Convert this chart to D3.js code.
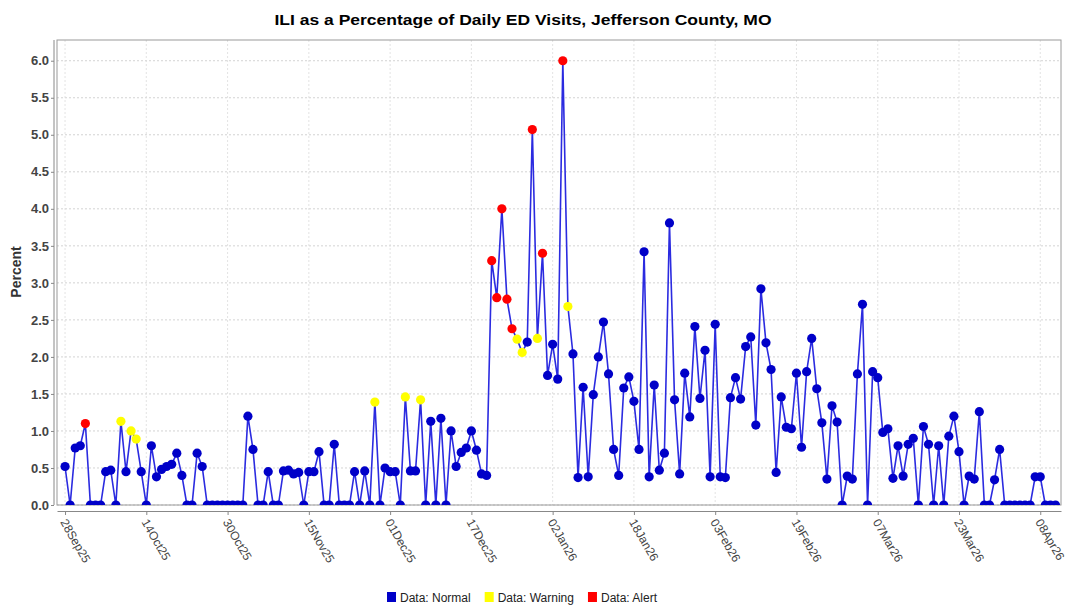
<!DOCTYPE html>
<html>
<head>
<meta charset="utf-8">
<script src="https://d3js.org/d3.v7.min.js"></script>
<style>
  body { margin: 0; background: #fff; }
  svg { display: block; font-family: "Liberation Sans", Arial, sans-serif; }
</style>
</head>
<body>
<script>
// daily ILI %, one value per day starting 28 Sep 2025
var startDate = "2025-09-28";
var values = [
  0.52, 0, 0.77, 0.8, 1.1, 0, 0, 0, 0.45, 0.47, 0, 1.13, 0.45, 1.0, 0.89, 0.45,
  0, 0.8, 0.38, 0.48, 0.52, 0.55, 0.7, 0.4, 0, 0, 0.7, 0.52, 0, 0, 0, 0,
  0, 0, 0, 0, 1.2, 0.75, 0, 0, 0.45, 0, 0, 0.46, 0.47, 0.42, 0.44, 0,
  0.45, 0.45, 0.72, 0, 0, 0.82, 0, 0, 0, 0.45, 0, 0.46, 0, 1.39, 0, 0.5,
  0.45, 0.45, 0, 1.46, 0.46, 0.46, 1.42, 0, 1.13, 0, 1.17, 0, 1.0, 0.52, 0.71, 0.77,
  1.0, 0.74, 0.42, 0.4, 3.3, 2.8, 4.0, 2.78, 2.38, 2.24, 2.06, 2.2, 5.07, 2.25, 3.4, 1.75,
  2.17, 1.7, 6.0, 2.68, 2.04, 0.37, 1.59, 0.38, 1.49, 2.0, 2.47, 1.77, 0.75, 0.4, 1.58, 1.73,
  1.4, 0.75, 3.42, 0.38, 1.62, 0.47, 0.7, 3.81, 1.42, 0.42, 1.78, 1.19, 2.41, 1.44, 2.09, 0.38,
  2.44, 0.38, 0.37, 1.45, 1.72, 1.43, 2.14, 2.27, 1.08, 2.92, 2.19, 1.83, 0.44, 1.46, 1.05, 1.03,
  1.78, 0.78, 1.8, 2.25, 1.57, 1.11, 0.35, 1.34, 1.12, 0, 0.39, 0.35, 1.77, 2.71, 0, 1.8,
  1.72, 0.98, 1.03, 0.36, 0.8, 0.39, 0.82, 0.9, 0, 1.06, 0.82, 0, 0.8, 0, 0.93, 1.2,
  0.72, 0, 0.39, 0.35, 1.26, 0, 0, 0.34, 0.75, 0, 0, 0, 0, 0, 0, 0.38,
  0.38, 0, 0, 0
];
var warningDates = ["2025-10-09", "2025-10-11", "2025-10-12", "2025-11-28", "2025-12-04",
  "2025-12-07", "2025-12-26", "2025-12-27", "2025-12-30", "2026-01-05"];
var alertDates = ["2025-10-02", "2025-12-21", "2025-12-22", "2025-12-23", "2025-12-24",
  "2025-12-25", "2025-12-29", "2025-12-31", "2026-01-04"];
var tickDates = ["2025-09-28", "2025-10-14", "2025-10-30", "2025-11-15", "2025-12-01",
  "2025-12-17", "2026-01-02", "2026-01-18", "2026-02-03", "2026-02-19", "2026-03-07",
  "2026-03-23", "2026-04-08"];
var yTicks = [0, 0.5, 1, 1.5, 2, 2.5, 3, 3.5, 4, 4.5, 5, 5.5, 6];
var legendItems = ["Data: Normal", "Data: Warning", "Data: Alert"];
var statusColors = { normal: "#0000c8", warning: "#ffff00", alert: "#ff0000" };

var width = 1070, height = 607;
var plot = { left: 57, right: 1061, top: 40, bottom: 505 };

var parse = d3.timeParse("%Y-%m-%d");
var fmt = d3.timeFormat("%Y-%m-%d");
var start = parse(startDate);

var data = values.map(function(v, i) {
  var date = d3.timeDay.offset(start, i);
  var key = fmt(date);
  var status = alertDates.indexOf(key) >= 0 ? "alert" :
               warningDates.indexOf(key) >= 0 ? "warning" : "normal";
  return { date: date, value: v, status: status };
});

var x = d3.scaleTime()
    .domain([d3.timeHour.offset(start, -38), d3.timeHour.offset(start, 196 * 24 + 2)])
    .range([plot.left, plot.right]);

var y = d3.scaleLinear()
    .domain([0, 6.28])
    .range([plot.bottom, plot.top]);

var svg = d3.select("body").append("svg")
    .attr("width", width)
    .attr("height", height);

// title
svg.append("text")
    .attr("x", 523)
    .attr("y", 25)
    .attr("text-anchor", "middle")
    .attr("textLength", 497)
    .attr("lengthAdjust", "spacingAndGlyphs")
    .style("font-size", "15px")
    .style("font-weight", "bold")
    .text("ILI as a Percentage of Daily ED Visits, Jefferson County, MO");

// gridlines
svg.append("g")
  .selectAll("line")
  .data(yTicks)
  .join("line")
    .attr("x1", plot.left)
    .attr("x2", plot.right)
    .attr("y1", d => y(d))
    .attr("y2", d => y(d))
    .attr("stroke", "#c8c8c8")
    .attr("stroke-width", 0.8)
    .attr("stroke-dasharray", "2,2");

var xTicks = tickDates.map(parse);

svg.append("g")
  .selectAll("line")
  .data(xTicks)
  .join("line")
    .attr("x1", d => x(d))
    .attr("x2", d => x(d))
    .attr("y1", plot.top)
    .attr("y2", plot.bottom)
    .attr("stroke", "#dcdcdc")
    .attr("stroke-width", 0.8)
    .attr("stroke-dasharray", "2,2");

// plot border
svg.append("rect")
    .attr("x", plot.left)
    .attr("y", plot.top)
    .attr("width", plot.right - plot.left)
    .attr("height", plot.bottom - plot.top)
    .attr("fill", "none")
    .attr("stroke", "#9a9a9a")
    .attr("stroke-width", 1);

// y axis (offset to the left of the plot)
var yAxis = d3.axisLeft(y)
    .tickValues(yTicks)
    .tickFormat(d3.format(".1f"))
    .tickSize(3)
    .tickPadding(2);

var yG = svg.append("g")
    .attr("transform", "translate(" + (plot.left - 3) + ",0)")
    .call(yAxis);
yG.select(".domain").attr("stroke", "#888").attr("d", "M0," + plot.top + "V" + plot.bottom);
yG.selectAll(".tick line").attr("stroke", "#888");
yG.selectAll(".tick text")
    .attr("fill", "#444")
    .style("font-size", "13px")
    .style("font-weight", "bold")
    .style("font-family", "'Liberation Sans', Arial, sans-serif");

// x axis (offset below the plot)
var xAxis = d3.axisBottom(x)
    .tickValues(xTicks)
    .tickFormat(d3.timeFormat("%d%b%y"))
    .tickSize(4)
    .tickSizeOuter(0);

var xG = svg.append("g")
    .attr("transform", "translate(0," + (plot.bottom + 6) + ")")
    .call(xAxis);
xG.select(".domain").attr("stroke", "#888");
xG.selectAll(".tick line").attr("stroke", "#888");
xG.selectAll(".tick text")
    .attr("fill", "#444")
    .attr("text-anchor", "start")
    .attr("x", 0)
    .attr("y", 0)
    .attr("dy", "0.35em")
    .attr("transform", "translate(-2,9) rotate(60)")
    .style("font-size", "12px")
    .style("font-family", "'Liberation Sans', Arial, sans-serif");

// y axis title
svg.append("text")
    .attr("transform", "translate(21,272) rotate(-90)")
    .attr("text-anchor", "middle")
    .style("font-size", "14px")
    .style("font-weight", "bold")
    .attr("fill", "#333")
    .text("Percent");

// series
svg.append("clipPath")
    .attr("id", "plotClip")
  .append("rect")
    .attr("x", plot.left)
    .attr("y", plot.top)
    .attr("width", plot.right - plot.left)
    .attr("height", plot.bottom - plot.top);

var series = svg.append("g").attr("clip-path", "url(#plotClip)");

var line = d3.line()
    .x(d => x(d.date))
    .y(d => y(d.value));

series.append("path")
    .datum(data)
    .attr("fill", "none")
    .attr("stroke", "#2b2be0")
    .attr("stroke-width", 1.6)
    .attr("d", line);

series.selectAll("circle")
  .data(data)
  .join("circle")
    .attr("cx", d => x(d.date))
    .attr("cy", d => y(d.value))
    .attr("r", 4.6)
    .attr("fill", d => statusColors[d.status]);

// legend, laid out left to right from the measured text widths
var legendKeys = ["normal", "warning", "alert"];
var legend = svg.append("g");
var lx = 0;
legendItems.forEach(function(label, i) {
  legend.append("rect")
      .attr("x", lx)
      .attr("y", 592)
      .attr("width", 9)
      .attr("height", 10)
      .attr("fill", statusColors[legendKeys[i]]);
  var t = legend.append("text")
      .attr("x", lx + 13)
      .attr("y", 602)
      .style("font-size", "12px")
      .attr("fill", "#222")
      .text(label);
  lx += 13 + t.node().getComputedTextLength() + 14;
});
var legendW = lx - 14;
legend.attr("transform", "translate(" + (522 - legendW / 2) + ",0)");
</script>
</body>
</html>
